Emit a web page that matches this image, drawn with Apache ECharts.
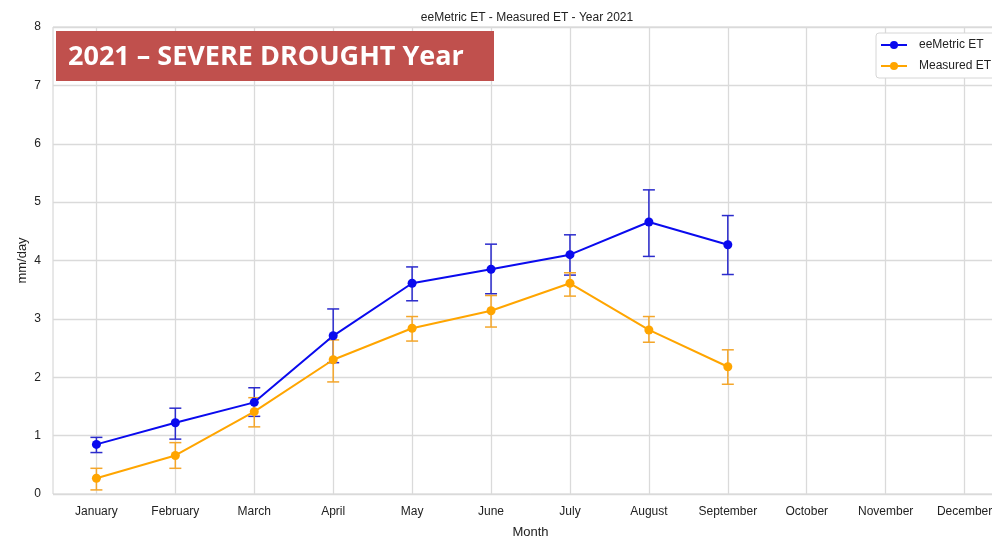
<!DOCTYPE html>
<html>
<head>
<meta charset="utf-8">
<script src="https://cdn.jsdelivr.net/npm/echarts@6/dist/echarts.min.js"></script>
<style>
  html, body { margin: 0; padding: 0; background: #fff; overflow: hidden; }
  #main_chart { width: 1012px; height: 544px; }
</style>
</head>
<body>
<div id="main_chart"></div>
<script>
// month categories, placed at x = 0..11
var months = ['January', 'February', 'March', 'April', 'May', 'June', 'July',
              'August', 'September', 'October', 'November', 'December'];

// eeMetric ET (mm/day) with error bar limits
var eeMean = [0.85, 1.22, 1.57, 2.71, 3.61, 3.85, 4.10, 4.66, 4.27];
var eeLow  = [0.71, 0.94, 1.33, 2.25, 3.31, 3.43, 3.75, 4.07, 3.76];
var eeHigh = [0.97, 1.47, 1.82, 3.17, 3.89, 4.28, 4.44, 5.21, 4.77];

// Measured ET (mm/day) with error bar limits
var msMean = [0.27, 0.66, 1.41, 2.30, 2.84, 3.14, 3.61, 2.81, 2.18];
var msLow  = [0.07, 0.44, 1.15, 1.92, 2.62, 2.86, 3.39, 2.60, 1.88];
var msHigh = [0.44, 0.88, 1.65, 2.64, 3.04, 3.40, 3.79, 3.04, 2.47];

var yTicks = [0, 1, 2, 3, 4, 5, 6, 7, 8];

var BLUE = '#0a0aee', BLUE_ERR = '#2b2bcc';
var ORANGE = '#ffa500', ORANGE_ERR = '#f4a62a';

function pairs(vals) {
    return vals.map(function (v, i) { return [i, v]; });
}
function errData(low, high) {
    return low.map(function (l, i) { return [i, l, high[i]]; });
}

// vertical error bar with caps
function errBar(color) {
    return function (params, api) {
        var lo = api.coord([api.value(0), api.value(1)]);
        var hi = api.coord([api.value(0), api.value(2)]);
        var w = 6;
        var st = { stroke: color, lineWidth: 1.5 };
        return {
            type: 'group',
            children: [
                { type: 'line', shape: { x1: lo[0], y1: lo[1], x2: hi[0], y2: hi[1] }, style: st },
                { type: 'line', shape: { x1: lo[0] - w, y1: lo[1], x2: lo[0] + w, y2: lo[1] }, style: st },
                { type: 'line', shape: { x1: hi[0] - w, y1: hi[1], x2: hi[0] + w, y2: hi[1] }, style: st }
            ]
        };
    };
}

var mychart = echarts.init(document.getElementById('main_chart'));

var option = {
    backgroundColor: '#fff',
    animation: false,
    textStyle: { fontFamily: 'Liberation Sans, Arial, sans-serif' },
    title: {
        text: 'eeMetric ET - Measured ET - Year 2021',
        left: 522, top: 7, textAlign: 'center',
        textStyle: { fontSize: 12, fontWeight: 'normal', color: '#222' }
    },
    legend: {
        orient: 'vertical',
        left: 876, top: 33,
        itemWidth: 26, itemHeight: 10, itemGap: 9,
        padding: [6, 8, 6, 4],
        borderColor: '#d6d6d6', borderWidth: 1, borderRadius: 3,
        backgroundColor: '#fff',
        textStyle: { fontSize: 12, color: '#222', padding: [0, 0, 0, 7] },
        data: ['eeMetric ET', 'Measured ET']
    },
    grid: { left: 53, top: 27, width: 955, height: 470, show: true, borderColor: '#d0d0d0', borderWidth: 1 },
    xAxis: {
        type: 'value',
        min: -0.55, max: 11.55,
        name: 'Month', nameLocation: 'middle', nameGap: 32, nameMoveOverlap: false,
        nameTextStyle: { fontSize: 13, color: '#222' },
        axisLine: { show: false },
        axisTick: { show: false, customValues: months.map(function (m, i) { return i; }) },
        axisLabel: {
            customValues: months.map(function (m, i) { return i; }),
            formatter: function (v) { return months[Math.round(v)]; },
            fontSize: 12, color: '#222', margin: 12
        },
        splitLine: { show: true, lineStyle: { color: '#dadada', width: 1.3 } }
    },
    yAxis: {
        type: 'value',
        min: yTicks[0], max: yTicks[yTicks.length - 1], interval: 1,
        name: 'mm/day', nameLocation: 'middle', nameGap: 24, nameMoveOverlap: false,
        nameTextStyle: { fontSize: 13, color: '#222' },
        axisLine: { show: false },
        axisTick: { show: false },
        axisLabel: { fontSize: 12, color: '#222', margin: 12 },
        splitLine: { show: true, lineStyle: { color: '#dadada', width: 1.3 } }
    },
    graphic: [
        {
            type: 'rect', left: 56, top: 31, z: 100,
            shape: { width: 438, height: 50 },
            style: { fill: '#c0504d' }
        },
        {
            type: 'text', x: 68, y: 57, z: 101,
            style: {
                text: '2021 \u2013 SEVERE DROUGHT Year',
                fill: '#fff',
                verticalAlign: 'middle',
                font: 'bold 27px "Open Sans", Lato, sans-serif'
            }
        }
    ],
    series: [
        {
            name: 'eeMetric ET', type: 'line',
            data: pairs(eeMean),
            symbol: 'circle', symbolSize: 9,
            lineStyle: { color: BLUE, width: 2 },
            itemStyle: { color: BLUE },
            z: 3
        },
        {
            name: 'eeMetric ET', type: 'custom',
            data: errData(eeLow, eeHigh),
            renderItem: errBar(BLUE_ERR),
            encode: { x: 0, y: [1, 2] },
            z: 2
        },
        {
            name: 'Measured ET', type: 'line',
            data: pairs(msMean),
            symbol: 'circle', symbolSize: 9,
            lineStyle: { color: ORANGE, width: 2 },
            itemStyle: { color: ORANGE },
            z: 3
        },
        {
            name: 'Measured ET', type: 'custom',
            data: errData(msLow, msHigh),
            renderItem: errBar(ORANGE_ERR),
            encode: { x: 0, y: [1, 2] },
            z: 2
        }
    ]
};

mychart.setOption(option);
</script>
</body>
</html>
